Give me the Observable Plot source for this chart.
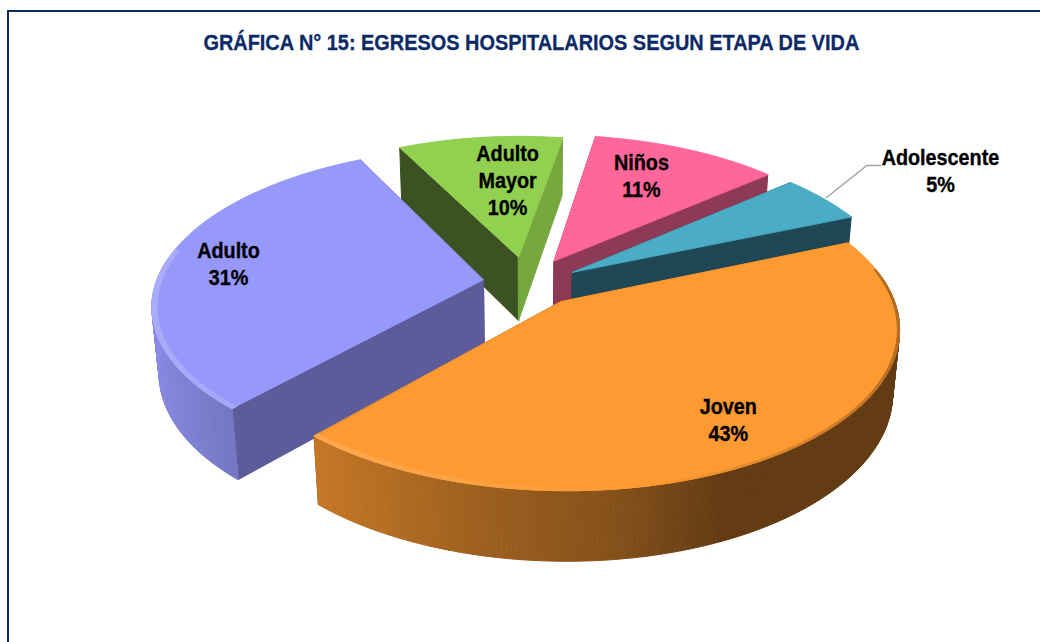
<!DOCTYPE html>
<html lang="es">
<head>
<meta charset="utf-8">
<script src="https://cdn.jsdelivr.net/npm/d3@7"></script>
<script src="https://cdn.jsdelivr.net/npm/@observablehq/plot@0.6"></script>
<style>
html,body{margin:0;padding:0;background:#fff;width:1040px;height:642px;overflow:hidden}
#frame{position:absolute;left:7px;top:10px;width:1100px;height:700px;border:2px solid #0b2a66;box-sizing:border-box}
#title{position:relative;height:70px;box-sizing:border-box;padding-top:30px;padding-left:22px;text-align:center;
font:bold 22px "Liberation Sans",Arial,sans-serif;color:#0b2a66;line-height:26px;white-space:nowrap;-webkit-text-stroke:.3px #0b2a66}
#title span{display:inline-block;transform:scaleX(.905)}
#chart{position:relative;height:572px}
svg{display:block}
</style>
</head>
<body>
<div id="frame"></div>
<div id="title"><span>GRÁFICA N° 15: EGRESOS HOSPITALARIOS SEGUN ETAPA DE VIDA</span></div>
<div id="chart"></div>
<script>
// Data
const etapas = ["Adulto Mayor", "Niños", "Adolescente", "Joven", "Adulto"];
const porcentajes = [10, 11, 5, 43, 31];
// Styling per slice
const topColors = ["#92d050", "#ff6699", "#4bacc6", "#fd9a32", "#9698fa"];
const startWallColors = ["#3d5222", "#8e3a57", "#1f4756", "#633a12", "#5d5c9a"];
const endWallColors = ["#76a83f", "#8e3a57", "#1f4756", "#633a12", "#5d5c9a"];
const sliceRadii = [310, 322, 328, 328, 328];
const sliceExplode = [63, 56, 54, 57, 45];
const sliceNudge = [0, -5, 0, -13, -6];
const sliceDepth = [75, 75, 75, 72, 76];
const labelAngles = [-5.1, 26.1, 59.5, 144.9, -81.1];
const labelRadii = [250, 291, 541.5, 307.6, 309.5];
const leaderAngles = [58, 53.1, 54.2];
const leaderRadii = [386.7, 482, 495];
const drawOrder = [0, 1, 2, 4, 3];

// 3D view
const cx = 527, cy = 285, D = 1868;
const tilt = 28.1 * Math.PI / 180, s = Math.sin(tilt), c = Math.cos(tilt);
const rad = d => d * Math.PI / 180;
const project = (u, v, w = 0) => {
  const z = D - v * c - w * s;
  return {x: cx + D * u / z, y: cy + D * (v * s - w * c) / z};
};
const ground = (th, r) => ({u: r * Math.sin(th), v: -r * Math.cos(th)});

const shade = d3.scaleLinear().domain([-1, -0.72, -0.22, 0.13, 0.4, 1]).range([0.92, 0.8, 0.62, 0.52, 0.39, 0.39]);
const darken = (col, f) => { const k = d3.rgb(col); return d3.rgb(k.r * f, k.g * f, k.b * f).formatHex(); };

const arcs = d3.pie().sort(null).value(d => d)
  .startAngle(rad(-26.6)).endAngle(rad(333.4))(porcentajes);

const faces = [];
let faceId = 0;
const addFace = (pts, fill) => {
  const id = faceId++;
  for (const p of pts) faces.push({face: id, x: p.x, y: p.y, fill});
};
for (const i of drawOrder) {
  const a = arcs[i];
  const R = sliceRadii[i], H = sliceDepth[i];
  const mid = (a.startAngle + a.endAngle) / 2;
  const off = ground(mid, sliceExplode[i]);
  off.v += sliceNudge[i];
  const pt = (th, r, w = 0) => { const g = ground(th, r); return project(off.u + g.u, off.v + g.v, w); };
  const N = Math.ceil((a.endAngle - a.startAngle) / rad(0.75));
  const angles = d3.range(N + 1).map(k => a.startAngle + (a.endAngle - a.startAngle) * k / N);
  // radial walls
  addFace([pt(0, 0), pt(a.startAngle, R), pt(a.startAngle, R, -H), pt(0, 0, -H)], startWallColors[i]);
  addFace([pt(0, 0), pt(a.endAngle, R), pt(a.endAngle, R, -H), pt(0, 0, -H)], endWallColors[i]);
  // outer wall
  for (let k = 0; k < N; k++) {
    const t0 = angles[k], t1 = angles[k + 1], tm = (t0 + t1) / 2;
    if (Math.cos(tm) > 0.15) continue;
    addFace([pt(t0, R), pt(t1, R), pt(t1, R, -H), pt(t0, R, -H)], darken(topColors[i], shade(Math.sin(tm))));
  }
  // top
  addFace([pt(0, 0), ...angles.map(t => pt(t, R))], topColors[i]);
  // rim bevel
  for (let k = 0; k < N; k++) {
    const t0 = angles[k], t1 = angles[k + 1], tm = (t0 + t1) / 2;
    if (Math.cos(tm) > 0.2) continue;
    const sn = Math.sin(tm);
    const lit = sn < 0.2;
    const col = lit
      ? d3.interpolateRgb(topColors[i], "#ffffff")(0.2 * (0.2 - sn) / 1.2)
      : darken(topColors[i], 1 - 0.3 * (sn - 0.2) / 0.8);
    const w = lit ? 5 : 2;
    addFace([pt(t0, R), pt(t1, R), pt(t1, R - w), pt(t0, R - w)], col);
  }
}

const labels = etapas.map((e, i) => {
  const g = ground(rad(labelAngles[i]), labelRadii[i]);
  return {...project(g.u, g.v), text: e.replace(" ", "\n") + "\n" + porcentajes[i] + "%"};
});
const leader = leaderAngles.map((d, i) => {
  const g = ground(rad(d), leaderRadii[i]);
  return project(g.u, g.v);
});

const plot = Plot.plot({
  width: 1040, height: 572,
  margin: 0,
  style: {background: "transparent"},
  x: {domain: [0, 1040], range: [0, 1040], axis: null},
  y: {domain: [70, 642], range: [0, 572], axis: null},
  marks: [
    Plot.line(faces, {x: "x", y: "y", z: "face", fill: "fill", stroke: "fill", strokeWidth: 1, curve: "linear-closed"}),
    Plot.line(leader, {x: "x", y: "y", stroke: "#a6a6a6", strokeWidth: 1.5}),
    Plot.text(labels, {x: "x", y: "y", dy: -1, text: "text", fill: "#000", stroke: "#000", strokeWidth: 0.35, fontSize: 22, fontWeight: "bold",
      fontFamily: '"Liberation Sans",Arial,sans-serif', lineHeight: 1.23, textAnchor: "middle", lineAnchor: "middle"})
  ]
});
// Labels in the reference use a condensed face: narrow the real text horizontally.
plot.querySelectorAll('text').forEach(t => {
  const tr = t.getAttribute("transform") || "";
  t.setAttribute("transform", tr + " scale(.9,1)");
});
document.getElementById("chart").appendChild(plot);
</script>
</body>
</html>
